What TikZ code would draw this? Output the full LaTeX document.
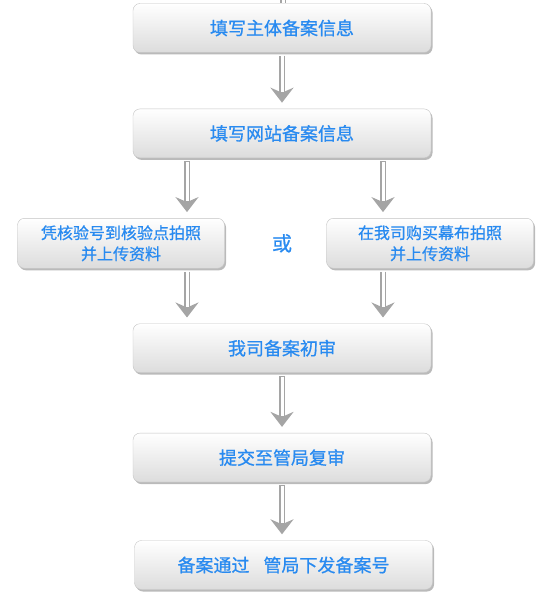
\documentclass[tikz,border=0pt]{standalone}
\usepackage{fontspec}
\usepackage{tikz}
\usetikzlibrary{arrows.meta, shadows, positioning}
\usepackage{xcolor}
\newfontfamily\cjk[FakeBold=0.8]{Noto Sans CJK SC}
\definecolor{textblue}{RGB}{40, 138, 240}
\definecolor{boxline}{RGB}{195, 195, 195}
\definecolor{boxbottom}{RGB}{220, 220, 220}
\definecolor{arrowgray}{RGB}{165, 165, 165}

\begin{document}
\begin{tikzpicture}[
    x=1pt, y=1pt,
    node distance=56pt,
    mainbox/.style={rectangle, draw=boxline, rounded corners=7pt, minimum height=49pt, minimum width=298pt, top color=white, bottom color=boxbottom, drop shadow={shadow xshift=1.5pt, shadow yshift=-2pt, opacity=0.45, fill=black!60}, align=center, font=\cjk\fontsize{18}{22}\selectfont, text=textblue},
    sidebox/.style={mainbox, minimum width=207pt, minimum height=50pt, font=\cjk\fontsize{16}{21}\selectfont},
    orlabel/.style={font=\cjk\fontsize{20}{24}\selectfont, text=textblue},
    shaft/.style={draw=arrowgray, line width=5.5pt, postaction={draw=white, line width=3pt}},
    arrow/.style={draw=arrowgray, line width=5.5pt, -{Stealth[length=15pt, width=23pt, inset=5pt]}, shorten <=3pt, shorten >=6pt,
        postaction={draw=white, line width=3pt, -, shorten <=3.8pt, shorten >=17pt}}
]
    \useasboundingbox (0,0) rectangle (547,-607);

    \node[mainbox] (entity) at (282,-28) {填写主体备案信息};
    \node[mainbox, below=56pt of entity] (website) {填写网站备案信息};
    \node[sidebox, below=60pt of website, xshift=-161pt] (checkpoint) {凭核验号到核验点拍照\\并上传资料};
    \node[sidebox, below=60pt of website, xshift=148pt] (purchase) {在我司购买幕布拍照\\并上传资料};
    \node[orlabel] (or) at (checkpoint -| website) {或};
    \coordinate (mid) at (checkpoint.south -| website.south);
    \node[mainbox, below=55pt of mid] (firstreview) {我司备案初审};
    \node[mainbox, below=60pt of firstreview] (bureau) {提交至管局复审};
    \node[mainbox, below=58pt of bureau, xshift=1.5pt] (done) {备案通过\hspace{14pt}管局下发备案号};

    \coordinate (top) at (283,0);
    \coordinate (leftx) at (187,0);
    \coordinate (rightx) at (383,0);

    \draw[shaft] (top) -- (entity.north -| top);
    \draw[arrow] (entity) -- (website);
    \draw[arrow] (website.south -| leftx) -- (checkpoint.north -| leftx);
    \draw[arrow] (website.south -| rightx) -- (purchase.north -| rightx);
    \draw[arrow] (checkpoint.south -| leftx) -- (firstreview.north -| leftx);
    \draw[arrow] (purchase.south -| rightx) -- (firstreview.north -| rightx);
    \draw[arrow] (firstreview) -- (bureau);
    \draw[arrow] (bureau.south) -- (bureau.south |- done.north);
\end{tikzpicture}
\end{document}
